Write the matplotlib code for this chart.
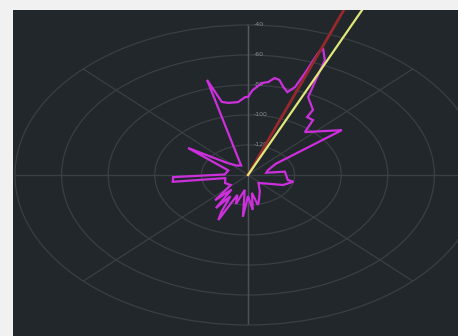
import numpy as np
import matplotlib
matplotlib.use("Agg")
import matplotlib.pyplot as plt
from matplotlib.transforms import Bbox, TransformedBbox, offset_copy

# Measured pattern: bearing in degrees (clockwise from north) and level in dB
pattern_theta = [0, 2, 5.6, 8, 10, 12, 14.5, 17, 19, 19.8, 20.3, 20.8, 23.3, 26.4,
                 32.7, 33.3, 37.3, 40.5, 53.4, 58, 70, 79, 82, 101, 103, 114, 125,
                 140, 155, 165, 168, 172, 175, 180, 184.5, 188, 195, 199, 203, 205,
                 208, 212, 216, 220, 228, 241, 258, 262, 267.5, 272, 290, 305, 312,
                 322, 335, 344.5, 347, 350, 355, 358.7, 360]
pattern_level = [-88, -83.4, -78.4, -77.4, -74.4, -75.2, -79.4, -82.2, -78, -67.8,
                 -53.4, -49.4, -56.6, -82, -88.4, -93.8, -94, -102.4, -89.8, -126,
                 -131, -132, -124, -122.6, -120, -123.6, -130, -133, -128, -122,
                 -119.6, -128, -116.6, -126, -112, -130, -120, -126, -107.4, -113,
                 -124, -114, -128, -118, -130, -128.8, -130, -107.4, -107.8, -130,
                 -131, -108.6, -128, -132, -133, -74.2, -90, -91.2, -91.2, -88, -88]

# Peak bearing markers
peak_a_theta = [20.5, 20.5]
peak_a_level = [-140, 0]
peak_b_theta = [24, 24]
peak_b_level = [-140, 0]

r_ticks = [-120, -100, -80, -60, -40]
r_labels = ["-120", "-100", "-80", "-60", "-40"]
r_min, r_max = -140, -40

W, H = 458, 336
bg = "#22272b"
grid_c = "#393f44"

fig = plt.figure(figsize=(W / 100, H / 100), dpi=100, facecolor="#f1f1f1")

# dark panel behind the polar plot
panel_ax = fig.add_axes([13 / W, 0, (W - 13) / W, 326 / H], zorder=0)
panel_ax.set_facecolor(bg)
panel_ax.set_xticks([])
panel_ax.set_yticks([])
for s in panel_ax.spines.values():
    s.set_visible(False)

ax = fig.add_axes([15 / W, 11 / H, 466 / W, 300 / H], projection="polar", zorder=1)
ax.set_aspect("auto")
ax.set_facecolor("none")
ax.set_theta_zero_location("N")
ax.set_theta_direction(-1)
ax.set_ylim(r_min, r_max)
ax.set_rticks(r_ticks[:-1])
ax.set_yticklabels([])
ax.set_thetagrids(np.arange(0, 360, 45), labels=[""] * 8)
ax.grid(True, color=grid_c, linewidth=0.9)
ax.spines["polar"].set_color(grid_c)
ax.spines["polar"].set_linewidth(0.9)
ax.tick_params(length=0)

# radial axis line
ax.plot(np.radians([0, 0]), [r_min, r_max], color="#545a60", lw=1.0, zorder=2)
ax.plot(np.radians([180, 180]), [r_min, r_max], color="#4a5056", lw=1.0, zorder=2)

lab_tr = offset_copy(ax.transData, fig=fig, x=6, y=0, units="dots")
for v, s in zip(r_ticks, r_labels):
    ax.text(0, v, s, transform=lab_tr, ha="left", va="center",
            fontsize=4.5, color="#868c92", zorder=3)

ax.plot(np.radians(pattern_theta), pattern_level, color="#cc30dc", lw=1.6,
        zorder=4, solid_joinstyle="miter")

clip_box = TransformedBbox(Bbox([[13 / W, 0], [1, 326 / H]]), fig.transFigure)
la, = ax.plot(np.radians(peak_a_theta), peak_a_level, color="#97292d", lw=2.0, zorder=5)
lb, = ax.plot(np.radians(peak_b_theta), peak_b_level, color="#dfe87a", lw=1.6, zorder=6)
for ln in (la, lb):
    ln.set_clip_path(None)
    ln.set_clip_box(clip_box)

fig.savefig("out.png", dpi=100, facecolor=fig.get_facecolor())
